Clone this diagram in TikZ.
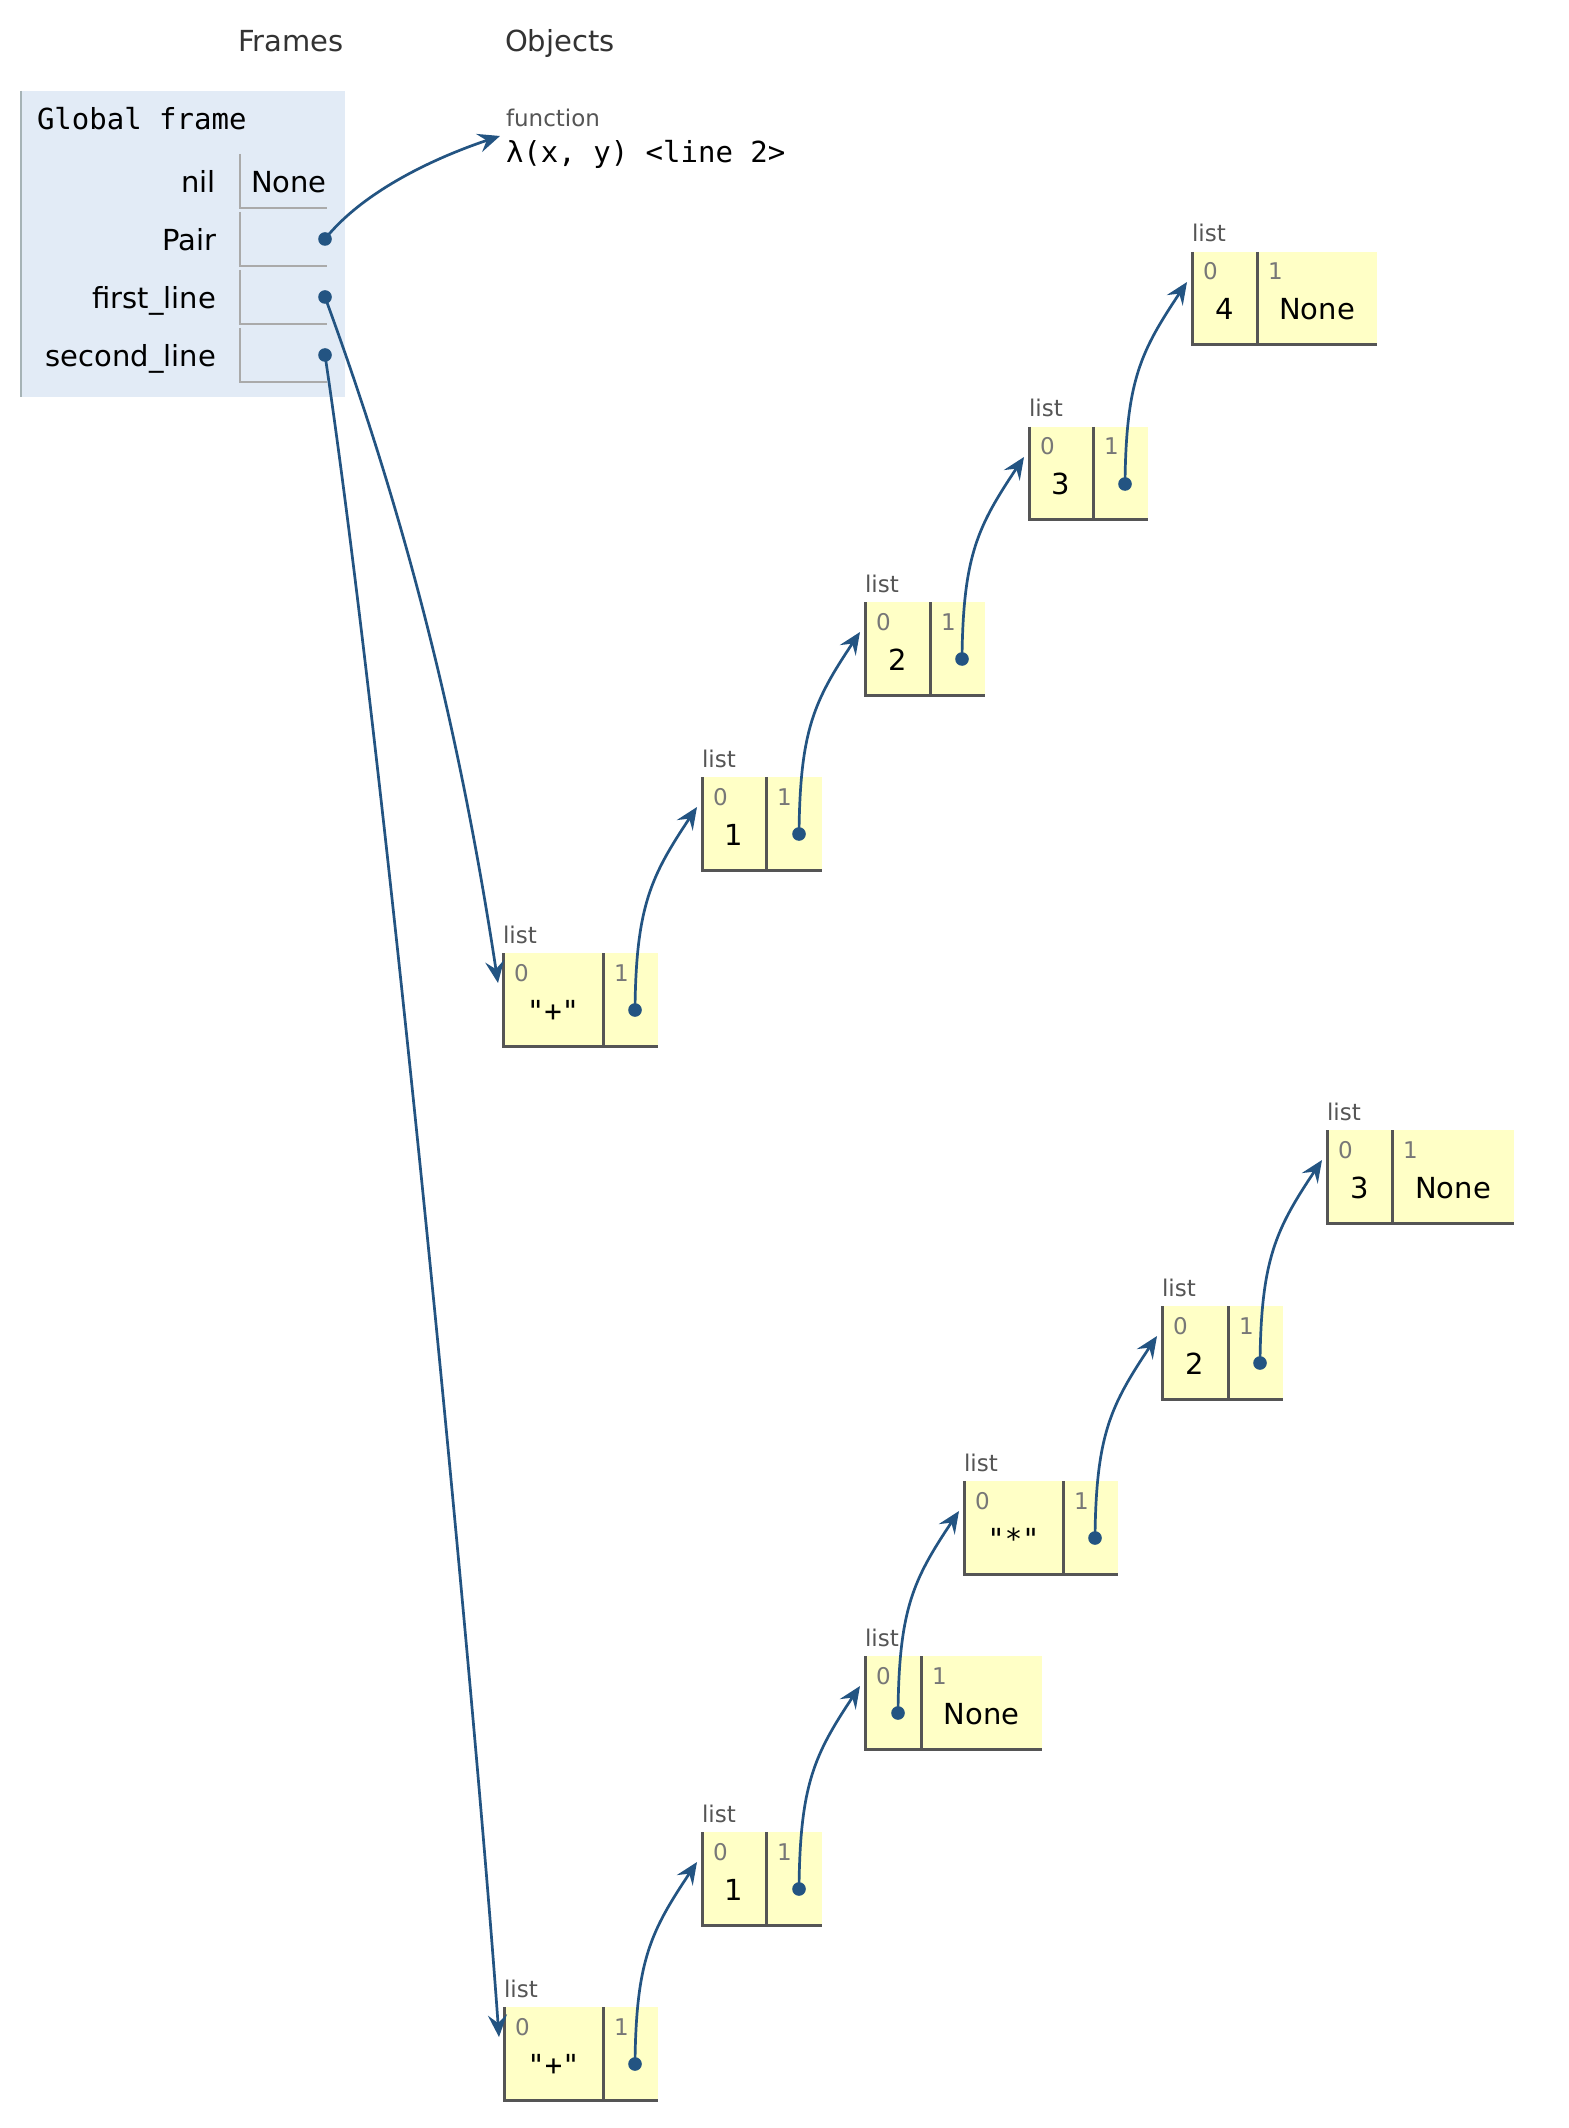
\documentclass[tikz,border=0pt]{standalone}
\usepackage{fontspec}
\setmainfont{DejaVu Sans}
\setmonofont{DejaVu Sans Mono}
\usetikzlibrary{arrows.meta}
\definecolor{arrowc}{RGB}{35,84,130}
\definecolor{heapfill}{HTML}{FFFFC6}
\definecolor{heapline}{HTML}{555555}
\definecolor{framefill}{HTML}{E2EBF6}
\definecolor{frameedge}{HTML}{A6B3B6}
\definecolor{cellline}{HTML}{AAAAAA}
\definecolor{hdrc}{HTML}{333333}
\definecolor{typec}{HTML}{555555}
\definecolor{idxc}{HTML}{777777}
\tikzset{
  bigtext/.style={font=\fontsize{14.5}{17}\selectfont, inner sep=0pt, outer sep=0pt},
  smalltext/.style={font=\fontsize{11.5}{14}\selectfont, inner sep=0pt, outer sep=0pt},
  header/.style={bigtext, text=hdrc, anchor=base west},
  monotext/.style={font=\fontsize{14.5}{17}\selectfont\ttfamily, inner sep=0pt, outer sep=0pt},
  varname/.style={bigtext, text=black, anchor=base east},
  typelabel/.style={smalltext, text=typec, anchor=base west},
  idx/.style={smalltext, text=idxc, anchor=base west},
  val/.style={bigtext, text=black, anchor=base},
  monoval/.style={monotext, text=black, anchor=base},
  cellbox/.style={fill=heapfill, draw=none, inner sep=0pt, outer sep=0pt, minimum height=46.5pt, anchor=north west},
  heapedge/.style={draw=heapline, line width=1.5pt},
  varcell/.style={draw=cellline, line width=1pt},
  ptrdot/.style={circle, fill=arrowc, draw=none, inner sep=0pt, outer sep=0pt, minimum size=6.8pt},
  ptr/.style={draw=arrowc, line width=1.35pt, -{Stealth[length=11pt,width=9.5pt,inset=4pt]}},
}
\newcommand\heapbox[5]{%
  \node[cellbox, minimum width={(#4)*0.5pt}] (#1-0) at (#2,#3) {};
  \node[cellbox, minimum width={(#5)*0.5pt}] (#1-1) at ({#2+#4},#3) {};
  \draw[heapedge] (#1-0.north west) -- (#1-0.south west) -- (#1-1.south east);
  \draw[heapedge] (#1-1.north west) -- (#1-1.south west);
  \node[typelabel] (#1-t) at (#2,{#3-10}) {list};
  \node[idx] (#1-i0) at ({#2+11},{#3+28}) {0};
  \node[idx] (#1-i1) at ({#2+#4+11},{#3+28}) {1};
}
\begin{document}
\begin{tikzpicture}[x=0.5pt,y=-0.5pt]
\useasboundingbox (0,0) rectangle (1568,2128);
\fill[white] (0,0) rectangle (1568,2128);

% headers
\node[header] (hframes) at (238,52) {Frames};
\node[header] (hobjects) at (505,52) {Objects};

% global frame
\node[fill=framefill, draw=none, inner sep=0pt, outer sep=0pt, minimum width=162pt, minimum height=153pt, anchor=north west] (gframe) at (21,91) {};
\draw[draw=frameedge, line width=1.25pt] (gframe.north west) -- (gframe.south west);
\node[monotext, text=black, anchor=base west] (gtitle) at (37,130) {Global frame};

\draw[varcell] (239.5,154) -- (239.5,208) -- (327,208);
\draw[varcell] (239.5,212) -- (239.5,266) -- (327,266);
\draw[varcell] (239.5,270) -- (239.5,324) -- (327,324);
\draw[varcell] (239.5,328) -- (239.5,382) -- (327,382);

\node[varname] (vnil) at (216,193) {nil};
\node[varname] (vpair) at (216,251) {Pair};
\node[varname] (vfirst) at (216,309) {first\_line};
\node[varname] (vsecond) at (216,367) {second\_line};
\node[bigtext, text=black, anchor=base west] (vnone) at (251,193) {None};

\node[ptrdot] (fpair) at (325,239) {};
\node[ptrdot] (ffirst) at (325,297) {};
\node[ptrdot] (fsecond) at (325,355) {};

% function object
\node[typelabel] (ftype) at (506,127) {function};
\node[monotext, text=black, anchor=base west] (flambda) at (506,163) {λ(x, y) <line 2>};
\coordinate (fin) at (500,136);

% chain 1
\heapbox{a1}{503}{953}{100}{55}
\heapbox{a2}{702}{777}{64}{56}
\heapbox{a3}{865}{602}{65}{55}
\heapbox{a4}{1029}{427}{64}{55}
\heapbox{a5}{1192}{252}{65}{120}

\node[monoval] (a1-v0) at (553,1021) {"+"};
\node[val] (a2-v0) at (734,845) {1};
\node[val] (a3-v0) at (897.5,670) {2};
\node[val] (a4-v0) at (1061,495) {3};
\node[val] (a5-v0) at (1224.5,320) {4};
\node[val] (a5-v1) at (1317,320) {None};

\node[ptrdot] (a1p) at (635,1010) {};
\node[ptrdot] (a2p) at (799,834) {};
\node[ptrdot] (a3p) at (962,659) {};
\node[ptrdot] (a4p) at (1125,484) {};

\coordinate (a1in) at (498,983);
\coordinate (a2in) at (697,807);
\coordinate (a3in) at (860,632);
\coordinate (a4in) at (1024,457);
\coordinate (a5in) at (1187,282);

% chain 2
\heapbox{b1}{504}{2007}{99}{55}
\heapbox{b2}{702}{1832}{64}{56}
\heapbox{b3}{865}{1656}{56}{121}
\heapbox{b4}{964}{1481}{99}{55}
\heapbox{b5}{1162}{1306}{66}{55}
\heapbox{b6}{1327}{1130}{65}{122}

\node[monoval] (b1-v0) at (553.5,2075) {"+"};
\node[val] (b2-v0) at (734,1900) {1};
\node[val] (b3-v1) at (981.5,1724) {None};
\node[monoval] (b4-v0) at (1013.5,1549) {"*"};
\node[val] (b5-v0) at (1195,1374) {2};
\node[val] (b6-v0) at (1359.5,1198) {3};
\node[val] (b6-v1) at (1453,1198) {None};

\node[ptrdot] (b1p) at (635,2064) {};
\node[ptrdot] (b2p) at (799,1889) {};
\node[ptrdot] (b3p) at (898,1713) {};
\node[ptrdot] (b4p) at (1095,1538) {};
\node[ptrdot] (b5p) at (1260,1363) {};

\coordinate (b1in) at (499,2037);
\coordinate (b2in) at (697,1862);
\coordinate (b3in) at (860,1686);
\coordinate (b4in) at (959,1511);
\coordinate (b5in) at (1157,1336);
\coordinate (b6in) at (1322,1160);

% connectors from frame
\draw[ptr] (fpair.center) .. controls +(40,-50) and +(-60,20) .. (fin);
\draw[ptr] (ffirst.center) .. controls +(85,232) and +(-37,-243) .. (a1in);
\draw[ptr] (fsecond.center) .. controls +(60,401) and +(-25,-350) .. (b1in);

% chain connectors
\draw[ptr] (a1p.center) .. controls +(1,-104) and +(-46,69) .. (a2in);
\draw[ptr] (a2p.center) .. controls +(1,-104) and +(-46,69) .. (a3in);
\draw[ptr] (a3p.center) .. controls +(1,-104) and +(-46,69) .. (a4in);
\draw[ptr] (a4p.center) .. controls +(1,-104) and +(-46,69) .. (a5in);

\draw[ptr] (b1p.center) .. controls +(1,-104) and +(-46,69) .. (b2in);
\draw[ptr] (b2p.center) .. controls +(1,-104) and +(-46,69) .. (b3in);
\draw[ptr] (b3p.center) .. controls +(1,-104) and +(-46,69) .. (b4in);
\draw[ptr] (b4p.center) .. controls +(1,-104) and +(-46,69) .. (b5in);
\draw[ptr] (b5p.center) .. controls +(1,-104) and +(-46,69) .. (b6in);
\end{tikzpicture}
\end{document}
